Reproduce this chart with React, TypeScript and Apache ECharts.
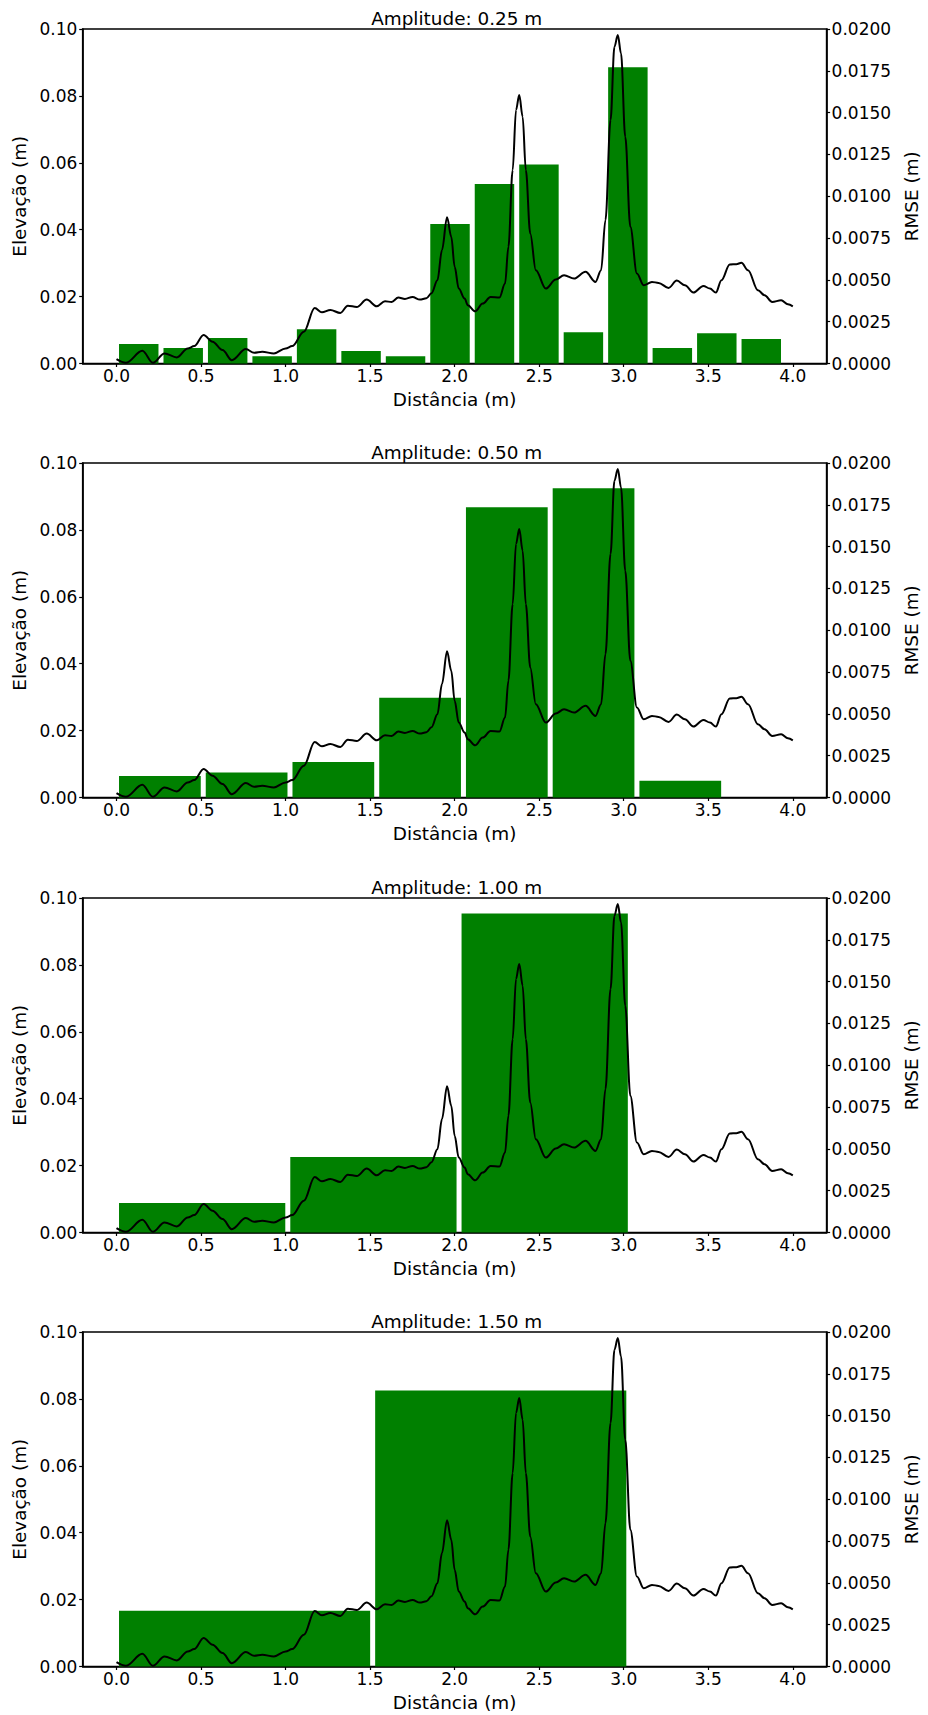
import React, { useEffect, useRef } from "react";
import * as echarts from "echarts";

// Elevation profile (Distância, Elevação)
const profileX = [
  0.0, 0.055, 0.153, 0.215, 0.284, 0.357, 0.421, 0.46, 0.515, 0.568, 0.627, 0.682, 0.765, 0.814, 0.862, 0.931,
  1.0, 1.039, 1.108, 1.172, 1.215, 1.265, 1.324, 1.368, 1.421, 1.48, 1.539, 1.588, 1.627, 1.667, 1.706, 1.751,
  1.794, 1.833, 1.863, 1.898, 1.925, 1.955, 1.98, 2.0, 2.024, 2.059, 2.078, 2.121, 2.166, 2.212, 2.265, 2.298,
  2.318, 2.343, 2.363, 2.382, 2.402, 2.421, 2.447, 2.48, 2.539, 2.598, 2.647, 2.706, 2.774, 2.833, 2.866, 2.892,
  2.922, 2.945, 2.965, 2.984, 3.009, 3.039, 3.078, 3.118, 3.167, 3.206, 3.265, 3.314, 3.362, 3.412, 3.471, 3.51,
  3.545, 3.578, 3.627, 3.666, 3.696, 3.735, 3.794, 3.833, 3.878, 3.931, 3.971, 4.0,
];
const profileY = [
  0.0013, 0.0002, 0.0038, 0.0002, 0.003, 0.0018, 0.0045, 0.0052, 0.0085, 0.0065, 0.004, 0.001, 0.0043, 0.0032, 0.0035, 0.003,
  0.0045, 0.0052, 0.0095, 0.0166, 0.0153, 0.016, 0.0151, 0.0173, 0.0169, 0.0191, 0.0171, 0.0186, 0.0184, 0.0197, 0.0193, 0.0199,
  0.0191, 0.0195, 0.021, 0.0249, 0.0339, 0.0437, 0.0379, 0.0289, 0.0224, 0.0194, 0.0174, 0.0156, 0.0179, 0.0199, 0.0197, 0.0239,
  0.0349, 0.0578, 0.0758, 0.0803, 0.0738, 0.0578, 0.0389, 0.0279, 0.0224, 0.0251, 0.0264, 0.0254, 0.0274, 0.0244, 0.0279, 0.0429,
  0.0728, 0.0947, 0.0982, 0.0927, 0.0678, 0.0409, 0.0269, 0.0234, 0.0244, 0.0241, 0.0226, 0.0248, 0.0234, 0.0212, 0.0232, 0.0224,
  0.0212, 0.0249, 0.0296, 0.0297, 0.0301, 0.0279, 0.0219, 0.0204, 0.0184, 0.0189, 0.0177, 0.0171,
];

// RMSE windows per amplitude
const amplitudeLabels = ["0.25", "0.50", "1.00", "1.50"];

const binStarts025 = [0, 0.263, 0.526, 0.789, 1.052, 1.315, 1.578, 1.841, 2.104, 2.367, 2.63, 2.893, 3.156, 3.419, 3.682];
const binWidth025 = 0.263;
const rmse025 = [0.00116, 0.00092, 0.00152, 0.00044, 0.00205, 0.00074, 0.00044, 0.00834, 0.01073, 0.0119, 0.00187, 0.01771, 0.00092, 0.00181, 0.00146];

const binStarts050 = [0, 0.513, 1.026, 1.539, 2.052, 2.565, 3.078];
const binWidth050 = 0.513;
const rmse050 = [0.00129, 0.00149, 0.00213, 0.00597, 0.01735, 0.01849, 0.000995];

const binStarts100 = [0, 1.013, 2.026];
const binWidth100 = 1.013;
const rmse100 = [0.00177, 0.00452, 0.01908];

const binStarts150 = [0, 1.515];
const binWidth150 = 1.515;
const rmse150 = [0.00334, 0.0165];

const xTicks = [0, 0.5, 1.0, 1.5, 2.0, 2.5, 3.0, 3.5, 4.0];

const panels = [
  { label: amplitudeLabels[0], starts: binStarts025, width: binWidth025, rmse: rmse025 },
  { label: amplitudeLabels[1], starts: binStarts050, width: binWidth050, rmse: rmse050 },
  { label: amplitudeLabels[2], starts: binStarts100, width: binWidth100, rmse: rmse100 },
  { label: amplitudeLabels[3], starts: binStarts150, width: binWidth150, rmse: rmse150 },
];

const FONT = "DejaVu Sans";
const FS_TICK = 17;
const FS_LABEL = 18.4;
const GRID_LEFT = 82.7;
const GRID_WIDTH = 748;
const GRID_HEIGHT = 334.5;
const GRID_TOPS = [29, 463, 898, 1332];

export default function App() {
  const ref = useRef<HTMLDivElement>(null);

  useEffect(() => {
    if (!ref.current) return;
    const chart = echarts.init(ref.current, null, { renderer: "svg" });

    const tickText = { fontFamily: FONT, fontSize: FS_TICK, color: "#000" };
    const labelText = { fontFamily: FONT, fontSize: FS_LABEL, color: "#000" };
    const profile = profileX.map((x, i) => [x, profileY[i]]);

    const grids: any[] = [];
    const xAxes: any[] = [];
    const yAxes: any[] = [];
    const series: any[] = [];
    const titles: any[] = [];

    panels.forEach((p, i) => {
      const top = GRID_TOPS[i];
      grids.push({
        left: GRID_LEFT,
        top,
        width: GRID_WIDTH,
        height: GRID_HEIGHT,
        show: true,
        borderColor: "#000",
        borderWidth: 1.6,
        backgroundColor: "transparent",
        containLabel: false,
      });
      titles.push({
        text: `Amplitude: ${p.label} m`,
        left: GRID_LEFT + GRID_WIDTH / 2,
        top: top - 20,
        textAlign: "center",
        padding: 0,
        textStyle: { ...labelText, fontWeight: "normal" },
      });
      xAxes.push({
        type: "value",
        gridIndex: i,
        min: -0.2,
        max: 4.2,
        name: "Distância (m)",
        nameLocation: "middle",
        nameGap: 26.5,
        nameTextStyle: labelText,
        splitLine: { show: false },
        axisLine: { show: true, onZero: false, lineStyle: { color: "#000", width: 1.6 } },
        axisTick: { show: true, length: 3.5, inside: false, customValues: xTicks, lineStyle: { color: "#000", width: 1.2 } },
        axisLabel: {
          ...tickText,
          margin: 4.4,
          customValues: xTicks,
          formatter: (v: number) => v.toFixed(1),
        },
      });
      yAxes.push({
        type: "value",
        gridIndex: i,
        position: "left",
        min: 0,
        max: 0.1,
        interval: 0.02,
        name: "Elevação (m)",
        nameLocation: "middle",
        nameGap: 54.5,
        nameTextStyle: labelText,
        splitLine: { show: false },
        axisLine: { show: true, onZero: false, lineStyle: { color: "#000", width: 1.6 } },
        axisTick: { show: true, length: 3.5, lineStyle: { color: "#000", width: 1.2 } },
        axisLabel: { ...tickText, margin: 5.4, formatter: (v: number) => v.toFixed(2) },
      });
      yAxes.push({
        type: "value",
        gridIndex: i,
        position: "right",
        min: 0,
        max: 0.02,
        interval: 0.0025,
        name: "RMSE (m)",
        nameLocation: "middle",
        nameGap: 74.6,
        nameRotate: 90,
        nameTextStyle: labelText,
        splitLine: { show: false },
        axisLine: { show: true, onZero: false, lineStyle: { color: "#000", width: 1.6 } },
        axisTick: { show: true, length: 3.5, lineStyle: { color: "#000", width: 1.2 } },
        axisLabel: { ...tickText, margin: 5, formatter: (v: number) => v.toFixed(4) },
      });

      const barData = p.starts.map((s, k) => [s, s + p.width, p.rmse[k]]);
      series.push({
        type: "custom",
        xAxisIndex: i,
        yAxisIndex: 2 * i + 1,
        data: barData,
        encode: { x: [0, 1], y: 2 },
        z: 2,
        renderItem: (_params: any, api: any) => {
          const p0 = api.coord([api.value(0), 0]);
          const p1 = api.coord([api.value(1), api.value(2)]);
          return {
            type: "rect",
            shape: {
              x: p0[0] + 2.5,
              y: p1[1],
              width: p1[0] - p0[0] - 5,
              height: p0[1] - p1[1],
            },
            style: { fill: "#008000" },
          };
        },
      });
      series.push({
        type: "line",
        xAxisIndex: i,
        yAxisIndex: 2 * i,
        data: profile,
        showSymbol: false,
        smooth: 0.35,
        smoothMonotone: "x",
        z: 5,
        lineStyle: { color: "#000", width: 2 },
      });
    });

    chart.setOption({
      animation: false,
      backgroundColor: "#fff",
      title: titles,
      grid: grids,
      xAxis: xAxes,
      yAxis: yAxes,
      series,
    });

    return () => chart.dispose();
  }, []);

  return (
    <div
      ref={ref}
      style={{ position: "absolute", left: 0, top: 0, width: 928, height: 1715 }}
    />
  );
}
